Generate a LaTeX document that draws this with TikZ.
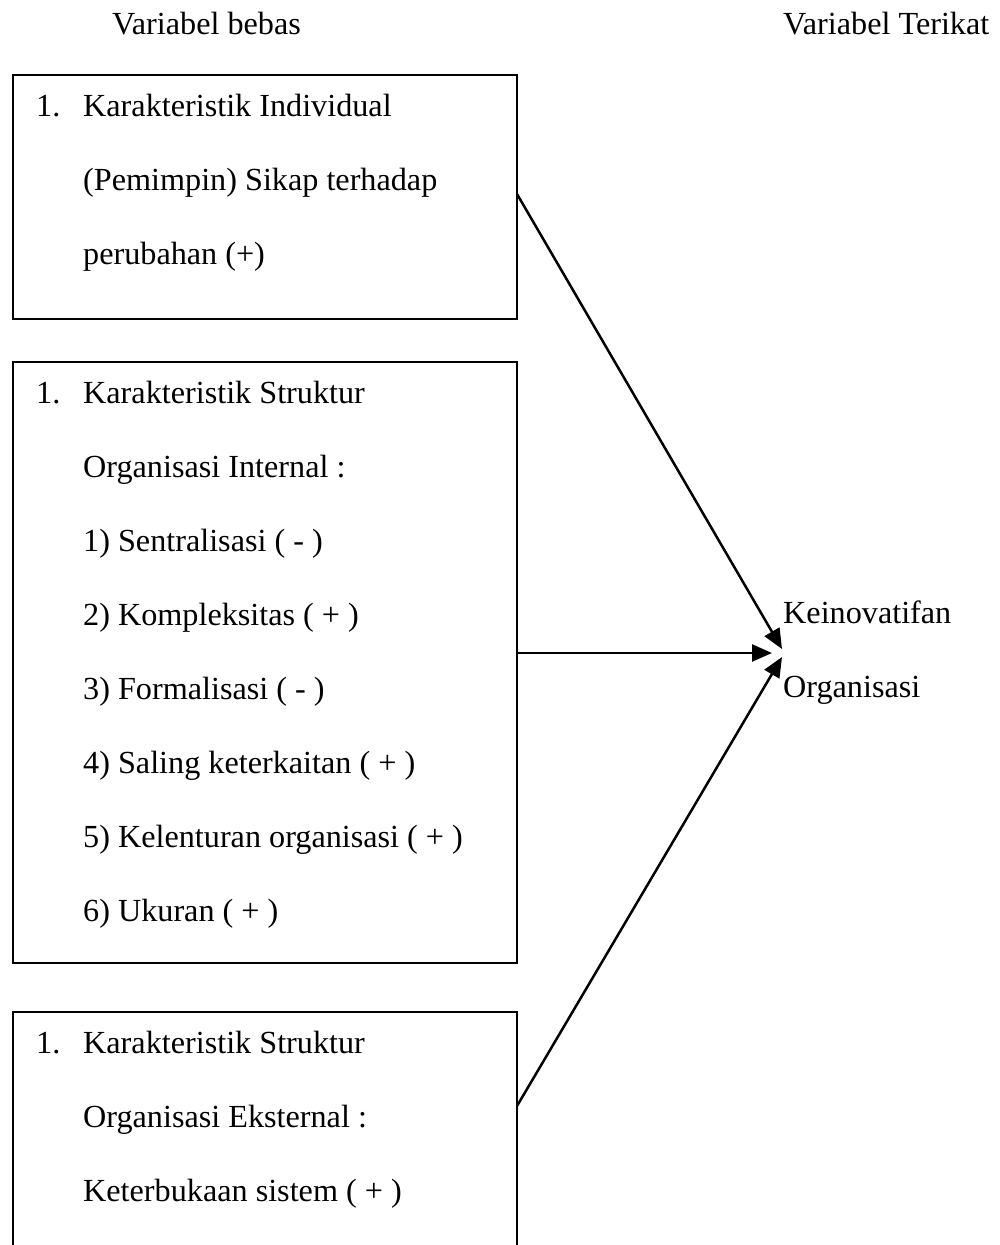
\documentclass[tikz,border=0pt]{standalone}
\usepackage{fontspec}
\setmainfont{Liberation Serif}
\usetikzlibrary{positioning,arrows.meta}

\begin{document}
\begin{tikzpicture}[
  x=1pt, y=-1pt,
  font=\fontsize{32.2}{40}\selectfont,
  >={Triangle[length=20pt,width=17pt]},
  box/.style={draw, line width=2pt, minimum width=504pt, inner sep=0pt,
              outer sep=0pt, anchor=north west},
  ln/.style={anchor=base west, inner sep=0pt},
  arr/.style={->, line width=2.5pt},
]
\useasboundingbox (0,0) rectangle (1000,1245);
\clip (0,0) rectangle (1000,1245);

% headers
\node[ln] (hBebas)  at (112,34) {Variabel bebas};
\node[ln] (hTerikat) at (783,34) {Variabel Terikat};

% box 1
\node[box, minimum height=244pt] (box1) at (13,75) {};
\node[ln] (n1a) at (36,116) {1.};
\node[ln] (t1a) at (83,116) {Karakteristik Individual};
\node[ln] (t1b) at (83,190) {(Pemimpin) Sikap terhadap};
\node[ln] (t1c) at (83,264) {perubahan (+)};

% box 2
\node[box, minimum height=601pt] (box2) at (13,362) {};
\node[ln] (n2a) at (36,403) {1.};
\node[ln] (t2a) at (83,403) {Karakteristik Struktur};
\node[ln] (t2b) at (83,477) {Organisasi Internal :};
\node[ln] (t2c) at (83,551) {1) Sentralisasi ( - )};
\node[ln] (t2d) at (83,625) {2) Kompleksitas ( + )};
\node[ln] (t2e) at (83,699) {3) Formalisasi ( - )};
\node[ln] (t2f) at (83,773) {4) Saling keterkaitan ( + )};
\node[ln] (t2g) at (83,847) {5) Kelenturan organisasi ( + )};
\node[ln] (t2h) at (83,921) {6) Ukuran ( + )};

% box 3 (runs past the bottom edge)
\node[box, minimum height=300pt] (box3) at (13,1012) {};
\node[ln] (n3a) at (36,1053) {1.};
\node[ln] (t3a) at (83,1053) {Karakteristik Struktur};
\node[ln] (t3b) at (83,1127) {Organisasi Eksternal :};
\node[ln] (t3c) at (83,1201) {Keterbukaan sistem ( + )};

% dependent variable
\node[ln] (keino) at (783,623) {Keinovatifan};
\node[ln] (org)   at (783,697) {Organisasi};
\coordinate (tipA) at (782,649);
\coordinate (tipB) at (772,653);
\coordinate (tipC) at (782,657);

\draw[arr] ([yshift=3pt]box1.east) -- (tipA);
\draw[arr] ([yshift=9.5pt]box2.east) -- (tipB);
\draw[arr] (box3.north east |- 517,1106) -- (tipC);
\end{tikzpicture}
\end{document}
